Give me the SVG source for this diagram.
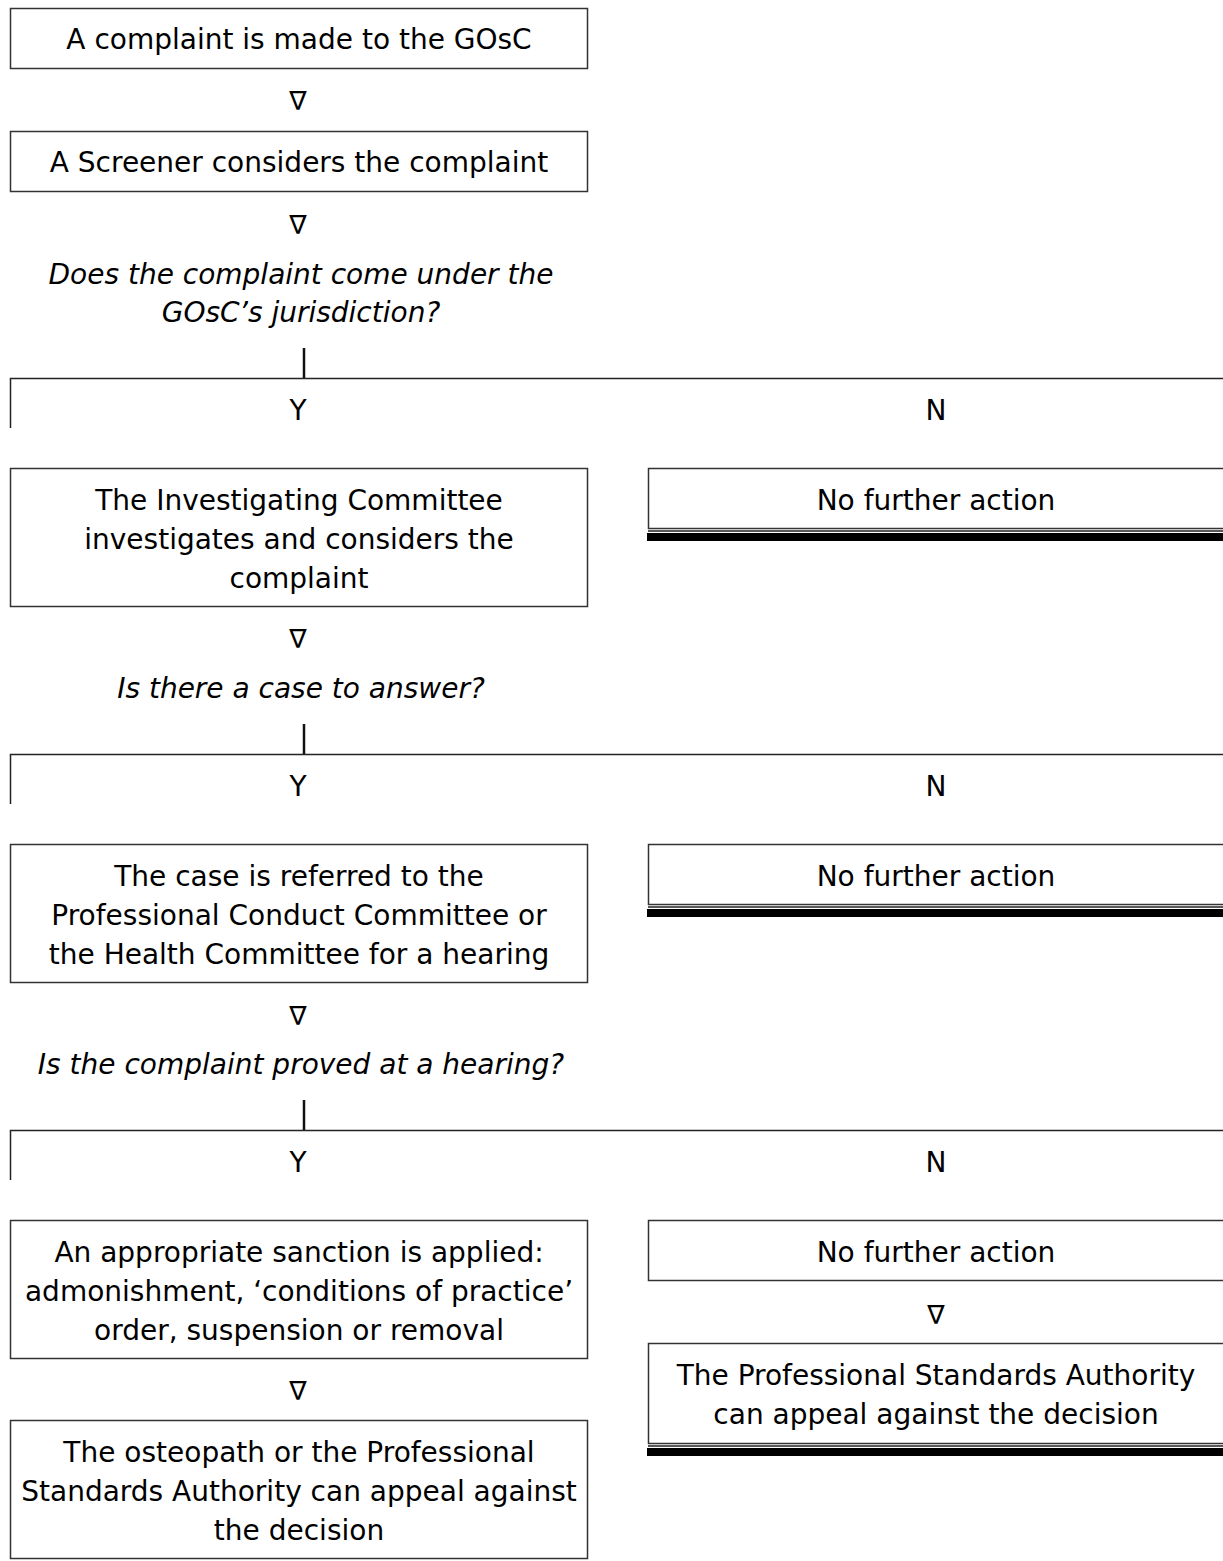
<svg xmlns="http://www.w3.org/2000/svg" width="1223" height="1561" viewBox="0 0 1223 1561">
<style>
text{font-family:"DejaVu Sans",sans-serif;font-size:28px;fill:#000;text-anchor:middle}
.q{font-style:italic}
.tri{font-family:"DejaVu Sans",sans-serif;font-size:26px}
.box{fill:#fff;stroke:#333;stroke-width:1.5}
.ln{stroke:#222;stroke-width:1.5;fill:none}
.v{stroke:#111;stroke-width:2.5}
.bar{fill:#000}
</style>
<rect width="1223" height="1561" fill="#fff"/>
<g id="connectors">
<text class="tri" x="298" y="110">∇</text>
<text class="tri" x="298" y="234">∇</text>
<line class="v" x1="304" y1="348" x2="304" y2="378"/>
<path class="ln" d="M10.5 428V378.5H1223"/>
<text class="tri" x="298" y="648">∇</text>
<line class="v" x1="304" y1="724" x2="304" y2="754"/>
<path class="ln" d="M10.5 804V754.5H1223"/>
<text class="tri" x="298" y="1025">∇</text>
<line class="v" x1="304" y1="1100" x2="304" y2="1130"/>
<path class="ln" d="M10.5 1180V1130.5H1223"/>
<text class="tri" x="298" y="1400">∇</text>
<text class="tri" x="936" y="1324">∇</text>
</g>
<g id="n1"><rect class="box" x="10.5" y="8.5" width="577" height="60"/><text x="299" y="49">A complaint is made to the GOsC</text></g>
<g id="n2"><rect class="box" x="10.5" y="131.5" width="577" height="60"/><text x="299" y="172">A Screener considers the complaint</text></g>
<g id="q1"><text class="q" x="301" y="284">Does the complaint come under the</text><text class="q" x="301" y="322">GOsC’s jurisdiction?</text></g>
<g id="y1"><text x="298" y="420">Y</text></g>
<g id="n_1"><text x="936" y="420">N</text></g>
<g id="n3"><rect class="box" x="10.5" y="468.5" width="577" height="138"/><text x="299" y="510">The Investigating Committee</text><text x="299" y="549">investigates and considers the</text><text x="299" y="588">complaint</text></g>
<g id="nfa1"><rect class="box" x="648.5" y="468.5" width="600" height="60"/><line class="ln" x1="648" y1="531" x2="1223" y2="531"/><rect class="bar" x="647" y="533" width="576" height="8"/><text x="936" y="510">No further action</text></g>
<g id="q2"><text class="q" x="301" y="698">Is there a case to answer?</text></g>
<g id="y2"><text x="298" y="796">Y</text></g>
<g id="n_2"><text x="936" y="796">N</text></g>
<g id="n4"><rect class="box" x="10.5" y="844.5" width="577" height="138"/><text x="299" y="886">The case is referred to the</text><text x="299" y="925">Professional Conduct Committee or</text><text x="299" y="964">the Health Committee for a hearing</text></g>
<g id="nfa2"><rect class="box" x="648.5" y="844.5" width="600" height="60"/><line class="ln" x1="648" y1="907" x2="1223" y2="907"/><rect class="bar" x="647" y="909" width="576" height="8"/><text x="936" y="886">No further action</text></g>
<g id="q3"><text class="q" x="301" y="1074">Is the complaint proved at a hearing?</text></g>
<g id="y3"><text x="298" y="1172">Y</text></g>
<g id="n_3"><text x="936" y="1172">N</text></g>
<g id="n5"><rect class="box" x="10.5" y="1220.5" width="577" height="138"/><text x="299" y="1262">An appropriate sanction is applied:</text><text x="299" y="1301">admonishment, ‘conditions of practice’</text><text x="299" y="1340">order, suspension or removal</text></g>
<g id="nfa3"><rect class="box" x="648.5" y="1220.5" width="600" height="60"/><text x="936" y="1262">No further action</text></g>
<g id="n6"><rect class="box" x="648.5" y="1343.5" width="600" height="100"/><line class="ln" x1="648" y1="1446" x2="1223" y2="1446"/><rect class="bar" x="647" y="1448" width="576" height="8"/><text x="936" y="1385">The Professional Standards Authority</text><text x="936" y="1424">can appeal against the decision</text></g>
<g id="n7"><rect class="box" x="10.5" y="1420.5" width="577" height="138"/><text x="299" y="1462">The osteopath or the Professional</text><text x="299" y="1501">Standards Authority can appeal against</text><text x="299" y="1540">the decision</text></g>
</svg>
